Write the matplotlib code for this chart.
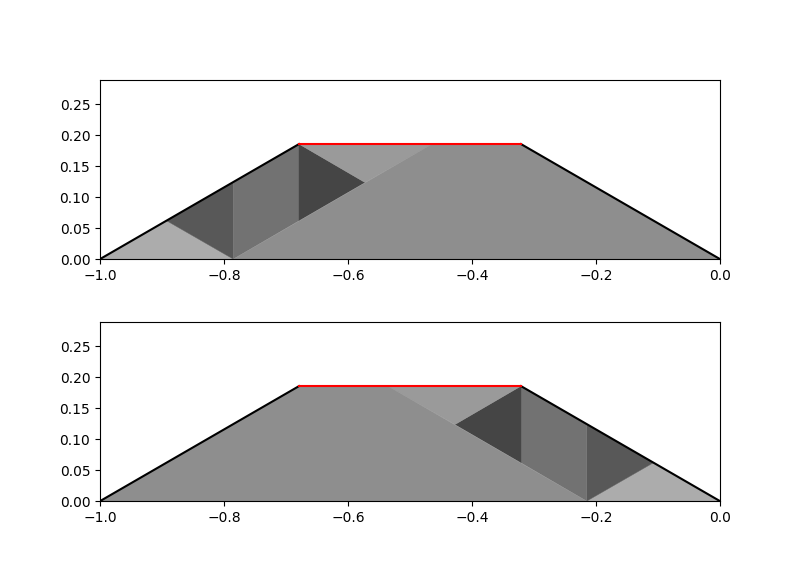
import matplotlib
matplotlib.use("Agg")
import matplotlib.pyplot as plt

# shaded cells of the top panel, the bottom panel is the mirror image
cell_xs = [
    [-1.0, -0.8925, -0.785],
    [-0.8925, -0.785, -0.785],
    [-0.785, -0.785, -0.679, -0.679],
    [-0.679, -0.679, -0.5725],
    [-0.679, -0.5725, -0.4645],
    [-0.785, -0.4645, -0.321, 0.0],
]
cell_ys = [
    [0.0, 0.0618, 0.0],
    [0.0618, 0.1235, 0.0],
    [0.0, 0.1235, 0.1855, 0.0618],
    [0.1855, 0.0618, 0.1235],
    [0.1855, 0.1235, 0.1855],
    [0.0, 0.1855, 0.1855, 0.0],
]
cell_greys = ["#acacac", "#585858", "#727272", "#454545", "#9a9a9a", "#8e8e8e"]

wall_left_x = [-1.0, -0.679]
wall_left_y = [0.0, 0.1855]
wall_right_x = [-0.321, 0.0]
wall_right_y = [0.1855, 0.0]
lid_x = [-0.679, -0.321]
lid_y = [0.1855, 0.1855]

fig, axes = plt.subplots(2, 1, figsize=(8, 5.76), dpi=100)
fig.subplots_adjust(left=0.125, right=0.9, top=0.861, bottom=0.13, hspace=0.352)

for i, ax in enumerate(axes):
    for xs, ys, grey in zip(cell_xs, cell_ys, cell_greys):
        if i == 1:
            xs = [-1.0 - x for x in xs]
        ax.fill(xs, ys, color=grey, lw=0.3)
    ax.plot(wall_left_x, wall_left_y, color="black")
    ax.plot(wall_right_x, wall_right_y, color="black")
    ax.plot(lid_x, lid_y, color="red")
    ax.set_xlim(-1, 0)
    ax.set_ylim(0, 0.2887)

fig.savefig("out.png", dpi=100)
